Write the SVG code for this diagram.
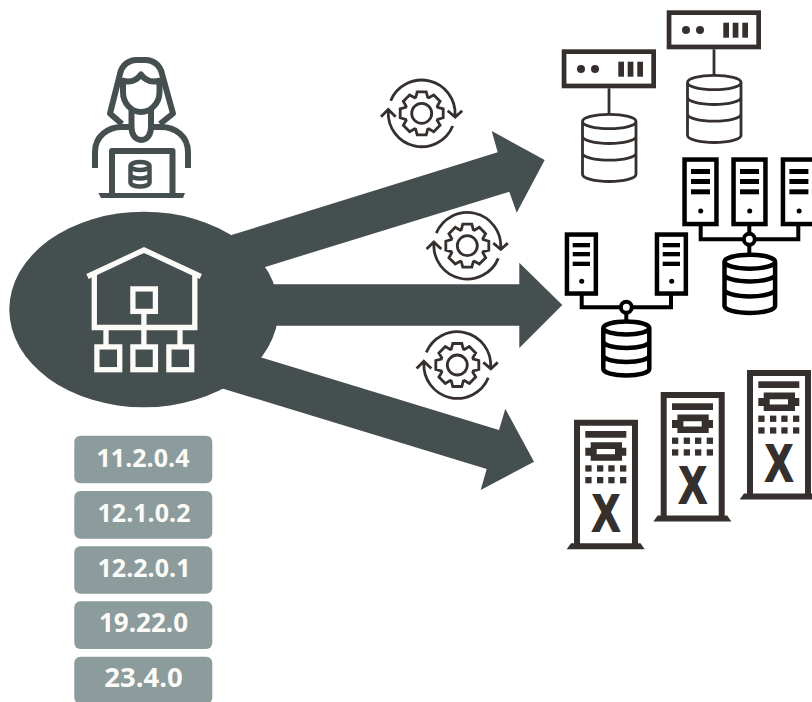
<svg xmlns="http://www.w3.org/2000/svg" width="812" height="702" viewBox="0 0 812 702">
<style>
.arrow{fill:#464f50}
.chip{fill:#8c9c9c}
.ver{font-family:"Open Sans","Noto Sans",sans-serif;font-weight:700;font-size:25px;fill:#fcfbf8;text-anchor:middle}
.wh{fill:none;stroke:#fcfbf8;stroke-width:5.300}
.pers{fill:none;stroke:#464f50;stroke-width:6;stroke-linejoin:round}
.pdb{fill:none;stroke:#464f50;stroke-width:4.500}
.gr{fill:none;stroke:#35302d;stroke-width:2.800}
.cy{fill:none;stroke:#35302d;stroke-width:2.800}
.dk{fill:#35302d}
.blk{fill:#fff;stroke:#000;stroke-width:4.500}
.bln{fill:none;stroke:#000;stroke-width:4}
.bdb{fill:#fff;stroke:#000;stroke-width:4.500}
.twr{fill:none;stroke:#35302d;stroke-width:6}
.xx{font-family:"Liberation Sans",Arial,sans-serif;font-weight:700;font-size:52px;fill:#35302d;stroke:#35302d;stroke-width:2.200;text-anchor:middle}
</style>
<defs>
<g id="gear">
<path class="gr" d="M-6-16L-4.500-21.500H4.500L6-16L7.070-15.560L12.020-18.380L18.380-12.020L15.560-7.070L16-6L21.500-4.500V4.500L16 6L15.560 7.070L18.380 12.020L12.020 18.380L7.070 15.560L6 16L4.500 21.500H-4.500L-6 16L-7.070 15.560L-12.020 18.380L-18.380 12.020L-15.560 7.070L-16 6L-21.500 4.500V-4.500L-16-6L-15.560-7.070L-18.380-12.020L-12.020-18.380L-7.070-15.560Z"/>
<circle class="gr" r="10"/>
<path class="gr" d="M-31-12.600A33.500 33.500 0 0 1 33.400 2M26-2.600L33.500 3.800L40.500-2.600M31 12.700A33.500 33.500 0 0 1-33.400-2M-40.700 3.400L-33.500-3.800L-26 3.400"/>
</g>
<g id="rack">
<rect class="dk" x="0" y="0" width="94.300" height="39"/>
<rect x="4.700" y="4.700" width="84.900" height="29.600" fill="#fff"/>
<circle class="dk" cx="19.300" cy="19.700" r="4"/>
<circle class="dk" cx="33.300" cy="19.700" r="4"/>
<rect class="dk" x="56.600" y="12.400" width="5.700" height="15"/>
<rect class="dk" x="66" y="12.400" width="5.700" height="15"/>
<rect class="dk" x="75.600" y="12.400" width="5.700" height="15"/>
<path class="cy" d="M47.300 39V65"/>
<path class="cy" d="M20.800 72.200A26.750 7.200 0 0 1 74.300 72.200A26.750 7.200 0 0 1 20.800 72.200ZM20.800 72.200V125A26.750 7.200 0 0 0 74.300 125V72.200M20.800 87A26.750 7.200 0 0 0 74.300 87M20.800 103.700A26.750 7.200 0 0 0 74.300 103.700"/>
</g>
<g id="srvL">
<rect class="blk" x="2.250" y="2.250" width="31.900" height="64.500"/>
<rect x="8.700" y="11.700" width="19" height="5"/>
<rect x="8.700" y="21.700" width="19" height="5"/>
<rect x="8.700" y="32" width="19" height="5"/>
<circle cx="18.400" cy="53.700" r="2.500"/>
</g>
<g id="srvS">
<rect class="blk" x="2.250" y="2.250" width="28.900" height="59"/>
<rect x="8" y="10.700" width="17.300" height="4.300"/>
<rect x="8" y="19.700" width="17.300" height="4.300"/>
<rect x="8" y="29.400" width="17.300" height="4.300"/>
<circle cx="17" cy="49" r="2.500"/>
</g>
<g id="tower">
<path class="twr" d="M577 544V422.700H635V544"/>
<path class="dk" d="M566.700 549.300L571 543.300H640.500L644.700 549.300Z"/>
<rect class="dk" x="585.300" y="431" width="41" height="6.700"/>
<path class="dk" fill-rule="evenodd" d="M590.700 442.300H622V447.700H626.300V455.700H622V460.700H590.700V455.700H585.300V447.700H590.700ZM596.700 449V454.300H615V449Z"/>
<g class="dk">
<rect x="585.300" y="465.300" width="6.300" height="6.300"/><rect x="597" y="465.300" width="6.300" height="6.300"/><rect x="608.300" y="465.300" width="6.300" height="6.300"/><rect x="620" y="465.300" width="6.300" height="6.300"/>
<rect x="585.300" y="477" width="6.300" height="6.300"/><rect x="597" y="477" width="6.300" height="6.300"/><rect x="608.300" y="477" width="6.300" height="6.300"/><rect x="620" y="477" width="6.300" height="6.300"/>
</g>
<text class="xx" x="606" y="531" textLength="27" lengthAdjust="spacingAndGlyphs">X</text>
</g>
</defs>

<g id="connectors">
<path class="arrow" d="M220 238.600L497.700 152.300L491.700 131L544.700 160L516.700 212.700L509.300 191.700L240 274.700Z"/>
<path class="arrow" d="M260 284.300H519.300V262.700L562.300 305L519.300 348V325.700H260Z"/>
<path class="arrow" d="M240 351L499 430L505.300 408.700L534 461.700L480.700 490L486.700 469L210 384.700Z"/>
</g>

<g id="person">
<path class="pers" d="M123 80.700C131 83 137 80 141 74.500C145 80 151 83 159.500 80.700V92C159.500 104 150 112 141 112C132 112 123 104 123 92Z"/>
<path class="pers" d="M122 124L110 113.500L120 74C122 64 130 60 136 60H146C152 60 160 64 162 74L173 113.500L160 124"/>
<path class="pers" d="M131.500 108V127C131.500 134 135 140 141.300 140C147.500 140 151 134 151 127V108"/>
<path class="pers" d="M95 168V152C95 136 108 127 122 127H131M188 168V152C188 136 175 127 161 127H151"/>
<path class="pers" d="M112 194V151H172.500V194"/>
<path fill="#464f50" d="M98.300 193H185L183 198H101Z"/>
<path class="pdb" d="M130.500 166A9.500 4 0 0 1 149.500 166A9.500 4 0 0 1 130.500 166ZM130.500 166V182.500A9.500 4 0 0 0 149.500 182.500V166M130.500 174.500A9.500 4 0 0 0 149.500 174.500"/>
</g>

<g id="hub">
<ellipse class="arrow" cx="143.900" cy="309.500" rx="134.600" ry="97.800"/>
<path class="wh" d="M87.500 276.500L144 250L200.800 276.500" stroke-linejoin="miter"/>
<path class="wh" d="M94.300 274V327.500H194.800V274M143.900 314V345M106 327.500V345M180 327.500V345"/>
<rect class="wh" x="132.900" y="288.900" width="22.500" height="22.500"/>
<rect class="wh" x="96.900" y="346.900" width="22.800" height="22.800"/>
<rect class="wh" x="132.900" y="346.900" width="22.500" height="22.800"/>
<rect class="wh" x="168.900" y="346.900" width="22.800" height="22.800"/>
</g>

<g id="gear1"><use href="#gear" x="421.700" y="113.300"/></g>
<g id="gear2"><use href="#gear" x="467.300" y="245.700"/></g>
<g id="gear3"><use href="#gear" x="457.300" y="365"/></g>

<g id="db-server-1"><use href="#rack" x="561.700" y="49.300"/></g>
<g id="db-server-2"><use href="#rack" x="666.700" y="10.300"/></g>

<g id="cluster-small">
<path class="bln" d="M581.700 295V307.300H671V295M626.300 312V322"/>
<use href="#srvS" x="564.700" y="232.300"/>
<use href="#srvS" x="654.700" y="232.300"/>
<circle cx="626.300" cy="307.300" r="5.500" fill="#fff" stroke="#000" stroke-width="4"/>
<path class="bdb" d="M603.300 328A23 6.500 0 0 1 649.300 328A23 6.500 0 0 1 603.300 328ZM603.300 328V369A23 6.500 0 0 0 649.300 369V328M603.300 341.500A23 6.500 0 0 0 649.300 341.500M603.300 355.500A23 6.500 0 0 0 649.300 355.500"/>
</g>

<g id="cluster-large">
<path class="bln" d="M700.700 225V239.300H798.300V225M749.300 225V234M749.300 245V256"/>
<use href="#srvL" x="682.300" y="157.300"/>
<use href="#srvL" x="731.300" y="157.300"/>
<use href="#srvL" x="780.700" y="157.300"/>
<circle cx="749.300" cy="239.300" r="5.500" fill="#fff" stroke="#000" stroke-width="4"/>
<path class="bdb" d="M724.500 261.700A25.300 7 0 0 1 775.100 261.700A25.300 7 0 0 1 724.500 261.700ZM724.500 261.700V306A25.300 7 0 0 0 775.100 306V261.700M724.500 274.500A25.300 7 0 0 0 775.100 274.500M724.500 289.500A25.300 7 0 0 0 775.100 289.500"/>
</g>

<g id="tower-1"><use href="#tower"/></g>
<g id="tower-2"><use href="#tower" x="86.700" y="-27.700"/></g>
<g id="tower-3"><use href="#tower" x="173" y="-49.700"/></g>

<g id="versions">
<rect class="chip" x="74.300" y="435.700" width="138" height="47.600" rx="6"/>
<rect class="chip" x="74.300" y="491" width="138" height="47.700" rx="6"/>
<rect class="chip" x="74.300" y="546.300" width="138" height="47.400" rx="6"/>
<rect class="chip" x="74.300" y="601.300" width="138" height="47.700" rx="6"/>
<rect class="chip" x="74.300" y="656.700" width="138" height="47" rx="6"/>
<text class="ver" x="143" y="467">11.2.0.4</text>
<text class="ver" x="144" y="522">12.1.0.2</text>
<text class="ver" x="144" y="577">12.2.0.1</text>
<text class="ver" x="143.500" y="632" style="font-size:26px">19.22.0</text>
<text class="ver" x="143.500" y="687" style="font-size:27.500px">23.4.0</text>
</g>
</svg>
